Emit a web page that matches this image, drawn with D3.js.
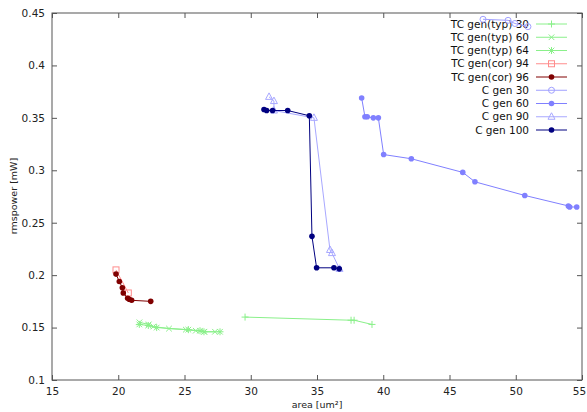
<!DOCTYPE html>
<html>
<head>
<meta charset="utf-8">
<script src="https://cdn.jsdelivr.net/npm/d3@7"></script>
<style>
  body { margin: 0; background: #fff; }
  text { font-family: "DejaVu Sans", sans-serif; }
</style>
</head>
<body>
<svg id="chart" width="587" height="412"></svg>
<script>
// series values: [area um², rmspower mW]
const tcTyp30 = [[29.57, 0.160], [37.57, 0.157], [37.8, 0.157], [39.15, 0.153]];
const tcTyp60 = [[21.6, 0.155], [22.3, 0.153], [22.65, 0.151], [23.83, 0.149], [25.1, 0.148], [25.85, 0.147], [26.5, 0.146], [27.3, 0.146]];
const tcTyp64 = [[21.59, 0.153], [22.27, 0.152], [22.9, 0.150], [25.29, 0.148], [26.17, 0.147], [26.47, 0.146], [27.68, 0.146]];
const tcCor94 = [[19.83, 0.205], [20.76, 0.183]];
const tcCor96 = [[19.83, 0.201], [20.08, 0.194], [20.31, 0.188], [20.38, 0.183], [20.71, 0.178], [20.83, 0.177], [21.01, 0.176], [22.45, 0.175]];
const cGen30 = [[47.53, 0.444], [49.42, 0.443], [49.94, 0.440], [50.92, 0.437]];
const cGen60 = [[38.37, 0.369], [38.62, 0.351], [38.79, 0.351], [39.25, 0.350], [39.63, 0.350], [40.03, 0.315], [42.12, 0.311], [46.0, 0.298], [46.92, 0.289], [50.68, 0.276], [53.97, 0.266], [54.07, 0.265], [54.6, 0.265]];
const cGen90 = [[31.38, 0.370], [31.75, 0.366], [31.75, 0.357], [34.77, 0.350], [35.98, 0.224], [36.13, 0.221], [36.7, 0.206]];
const cGen100 = [[31.0, 0.358], [31.2, 0.357], [31.65, 0.357], [32.79, 0.357], [34.42, 0.352], [34.62, 0.237], [34.97, 0.207], [36.28, 0.207], [36.68, 0.206]];

const seriesNames = ["TC gen(typ) 30", "TC gen(typ) 60", "TC gen(typ) 64", "TC gen(cor) 94", "TC gen(cor) 96",
                     "C gen 30", "C gen 60", "C gen 90", "C gen 100"];
const xTicks = [15, 20, 25, 30, 35, 40, 45, 50, 55];
const yTicks = [0.1, 0.15, 0.2, 0.25, 0.3, 0.35, 0.4, 0.45];

const series = [
  { name: seriesNames[0], data: tcTyp30, color: "#8af08a", marker: "plus" },
  { name: seriesNames[1], data: tcTyp60, color: "#8af08a", marker: "times" },
  { name: seriesNames[2], data: tcTyp64, color: "#8af08a", marker: "star" },
  { name: seriesNames[3], data: tcCor94, color: "#ff8c8c", marker: "square" },
  { name: seriesNames[4], data: tcCor96, color: "#800000", marker: "dot" },
  { name: seriesNames[5], data: cGen30, color: "#a0a0ff", marker: "circle" },
  { name: seriesNames[6], data: cGen60, color: "#8080ff", marker: "dot" },
  { name: seriesNames[7], data: cGen90, color: "#a8a8ff", marker: "triangle" },
  { name: seriesNames[8], data: cGen100, color: "#000080", marker: "dot" }
];

const svg = d3.select("#chart");
const x = d3.scaleLinear().domain([15, 55]).range([52, 582]);
const y = d3.scaleLinear().domain([0.1, 0.45]).range([380, 13]);

const fmtY = d => String(+d.toFixed(2));

// axes, ticks pointing inward, mirrored on top and right
function styleAxis(g) {
  g.select(".domain").remove();
  g.selectAll(".tick line").attr("stroke", "#555");
  g.selectAll(".tick text").attr("fill", "#222").style("font-size", "10.5px");
}
svg.append("g").attr("transform", "translate(0,380)")
  .call(d3.axisBottom(x).tickValues(xTicks).tickSizeInner(-5).tickSizeOuter(0).tickPadding(8))
  .call(styleAxis)
  .selectAll(".tick text").filter(d => d === 55).attr("dx", "-3");
svg.append("g").attr("transform", "translate(0,13)")
  .call(d3.axisTop(x).tickValues(xTicks).tickSizeInner(-5).tickSizeOuter(0).tickFormat(""))
  .call(styleAxis);
svg.append("g").attr("transform", "translate(52,0)")
  .call(d3.axisLeft(y).tickValues(yTicks).tickSizeInner(-5).tickSizeOuter(0).tickPadding(7).tickFormat(fmtY))
  .call(styleAxis);
svg.append("g").attr("transform", "translate(582,0)")
  .call(d3.axisRight(y).tickValues(yTicks).tickSizeInner(-5).tickSizeOuter(0).tickFormat(""))
  .call(styleAxis);

svg.append("rect")
  .attr("x", x(15)).attr("y", y(0.45))
  .attr("width", x(55) - x(15)).attr("height", y(0.1) - y(0.45))
  .attr("fill", "none").attr("stroke", "#555").attr("stroke-width", 1);

svg.append("text").attr("x", 317).attr("y", 408).attr("text-anchor", "middle")
  .style("font-size", "9.5px").attr("fill", "#222").text("area [um²]");
svg.append("text").attr("transform", "translate(17,196) rotate(-90)").attr("text-anchor", "middle")
  .style("font-size", "9.5px").attr("fill", "#222").text("rmspower [mW]");

function drawMarker(g, cx, cy, type, color) {
  const s = 3.5;
  if (type === "plus" || type === "star") {
    g.append("path").attr("d", `M${cx - s},${cy}H${cx + s}M${cx},${cy - s}V${cy + s}`)
      .attr("stroke", color).attr("fill", "none");
  }
  if (type === "times" || type === "star") {
    const t = s * 0.8;
    g.append("path").attr("d", `M${cx - t},${cy - t}L${cx + t},${cy + t}M${cx - t},${cy + t}L${cx + t},${cy - t}`)
      .attr("stroke", color).attr("fill", "none");
  }
  if (type === "square") {
    g.append("rect").attr("x", cx - 3).attr("y", cy - 3).attr("width", 6).attr("height", 6)
      .attr("fill", "none").attr("stroke", color);
  }
  if (type === "dot") {
    g.append("circle").attr("cx", cx).attr("cy", cy).attr("r", 2.8).attr("fill", color);
  }
  if (type === "circle") {
    g.append("circle").attr("cx", cx).attr("cy", cy).attr("r", 3).attr("fill", "none").attr("stroke", color);
  }
  if (type === "triangle") {
    g.append("path").attr("d", `M${cx},${cy - 4}L${cx + 3.5},${cy + 2.5}L${cx - 3.5},${cy + 2.5}Z`)
      .attr("fill", "none").attr("stroke", color);
  }
}

const line = d3.line().x(d => x(d[0])).y(d => y(d[1]));

// key text first, plots drawn over it
const keyY = i => 24 + i * 13.25;
series.forEach((s, i) => {
  svg.append("text").attr("x", 529).attr("y", keyY(i)).attr("dy", "0.35em")
    .attr("text-anchor", "end").style("font-size", "10.5px").attr("fill", "#111").text(s.name);
});

series.forEach((s, i) => {
  const g = svg.append("g");
  g.append("path").datum(s.data).attr("d", line)
    .attr("fill", "none").attr("stroke", s.color).attr("stroke-width", 1);
  s.data.forEach(d => drawMarker(g, x(d[0]), y(d[1]), s.marker, s.color));
  // key sample
  g.append("line").attr("x1", 536).attr("x2", 567).attr("y1", keyY(i)).attr("y2", keyY(i))
    .attr("stroke", s.color).attr("stroke-width", 1);
  drawMarker(g, 551.5, keyY(i), s.marker, s.color);
});
</script>
</body>
</html>
